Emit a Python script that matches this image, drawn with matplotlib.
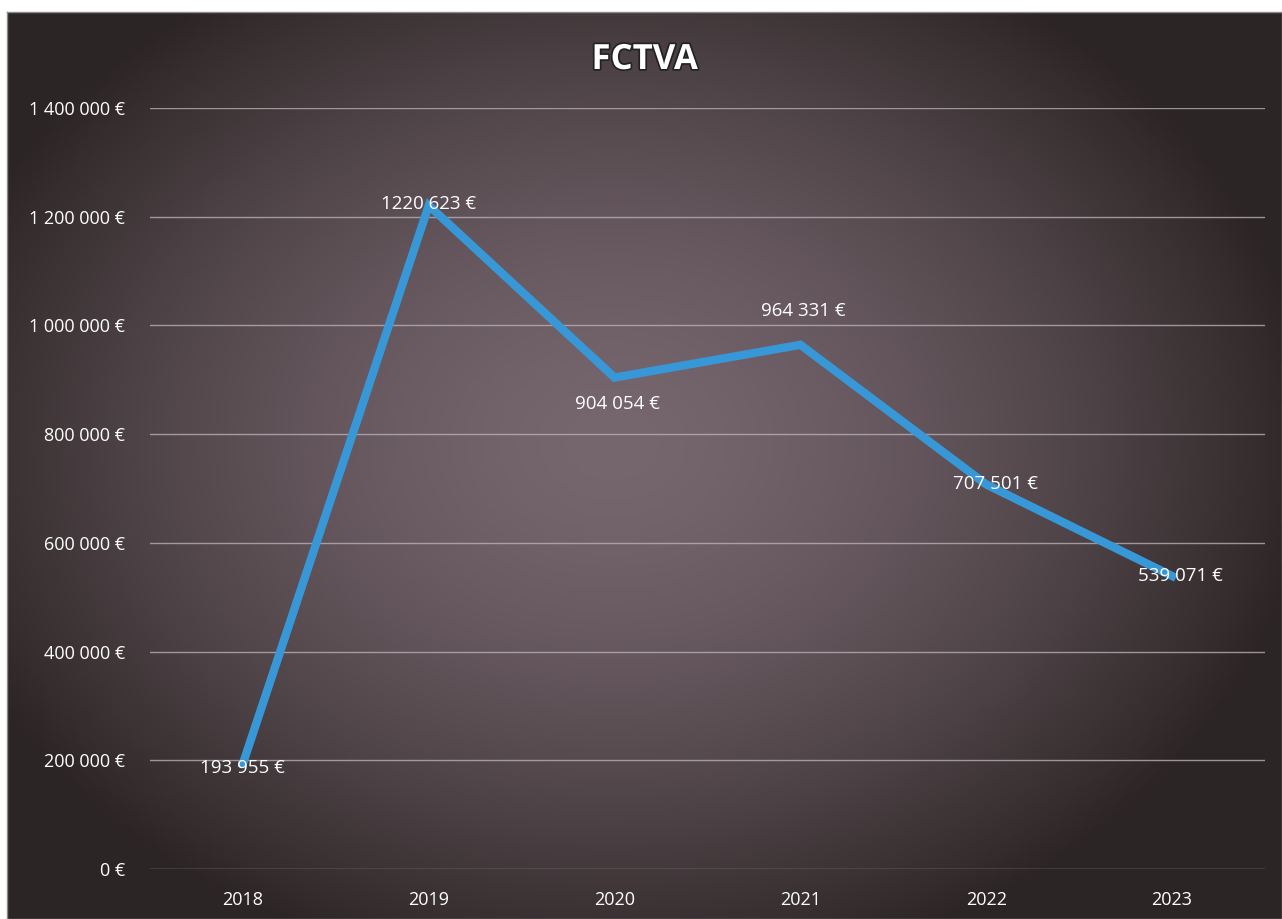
import matplotlib.pyplot as plt
import matplotlib.patheffects as pe
import numpy as np

years = ['2018', '2019', '2020', '2021', '2022', '2023']
fctva = [193955, 1220623, 904054, 964331, 707501, 539071]
value_labels = ['193 955 €', '1220 623 €', '904 054 €', '964 331 €', '707 501 €', '539 071 €']
yticks = [0, 200000, 400000, 600000, 800000, 1000000, 1200000, 1400000]
ytick_labels = ['0 €', '200 000 €', '400 000 €', '600 000 €', '800 000 €',
                '1 000 000 €', '1 200 000 €', '1 400 000 €']
# label offsets in points (dx, dy) relative to each point
label_offsets = [(0, -3), (0, 1), (2, -19), (2, 24), (7, 0), (6, 0)]

plt.rcParams['font.family'] = ['Open Sans', 'DejaVu Sans']

fig = plt.figure(figsize=(12.82, 9.19), dpi=100)
fig.patch.set_facecolor('white')

# dark radial gradient background panel (scanned chart area)
bg = fig.add_axes([7 / 1282, 0, 1 - 7 / 1282, 1 - 12 / 919])
w, h = 400, 300
xx, yy = np.meshgrid(np.linspace(-1, 1, w), np.linspace(-1, 1, h))
r = np.sqrt(((xx + 0.05) / 1.1) ** 2 + ((yy + 0.05) / 1.2) ** 2)
t = np.clip(r, 0, 1) ** 1.6
inner = np.array([118, 102, 110]) / 255
outer = np.array([44, 37, 37]) / 255
img = inner[None, None, :] * (1 - t[..., None]) + outer[None, None, :] * t[..., None]
bg.imshow(img, aspect='auto', extent=[0, 1, 0, 1], origin='upper')
bg.set_xticks([])
bg.set_yticks([])
for s in bg.spines.values():
    s.set_color('#8a8a8a')
    s.set_linewidth(1)

ax = fig.add_axes([150 / 1282, 50 / 919, (1265 - 150) / 1282, (869 - 108) / 919])
ax.set_facecolor('none')
ax.set_xlim(-0.5, 5.5)
ax.set_ylim(0, 1400000)

x = np.arange(len(years))
ax.plot(x, fctva, color='#3897d6', linewidth=6, solid_joinstyle='miter', zorder=3)

ax.set_yticks(yticks)
ax.set_yticklabels(ytick_labels)
ax.set_xticks(x)
ax.set_xticklabels(years)
ax.tick_params(axis='both', length=0, colors='white', labelsize=13)
ax.tick_params(axis='y', pad=18)
ax.tick_params(axis='x', pad=16)
ax.grid(axis='y', color='#b8b0b8', linewidth=1, alpha=0.8)
for s in ax.spines.values():
    s.set_visible(False)

for xi, v, lab, (dx, dy) in zip(x, fctva, value_labels, label_offsets):
    ax.annotate(lab, (xi, v), xytext=(dx, dy), textcoords='offset points',
                ha='center', va='center', color='white', fontsize=13.5, zorder=4)

fig.text(0.503, 1 - 60 / 919, 'FCTVA', ha='center', va='center', color='white',
         fontsize=25, fontweight='bold',
         path_effects=[pe.withStroke(linewidth=2.5, foreground='#222222')])

fig.savefig('out.png', dpi=100, facecolor=fig.get_facecolor())
